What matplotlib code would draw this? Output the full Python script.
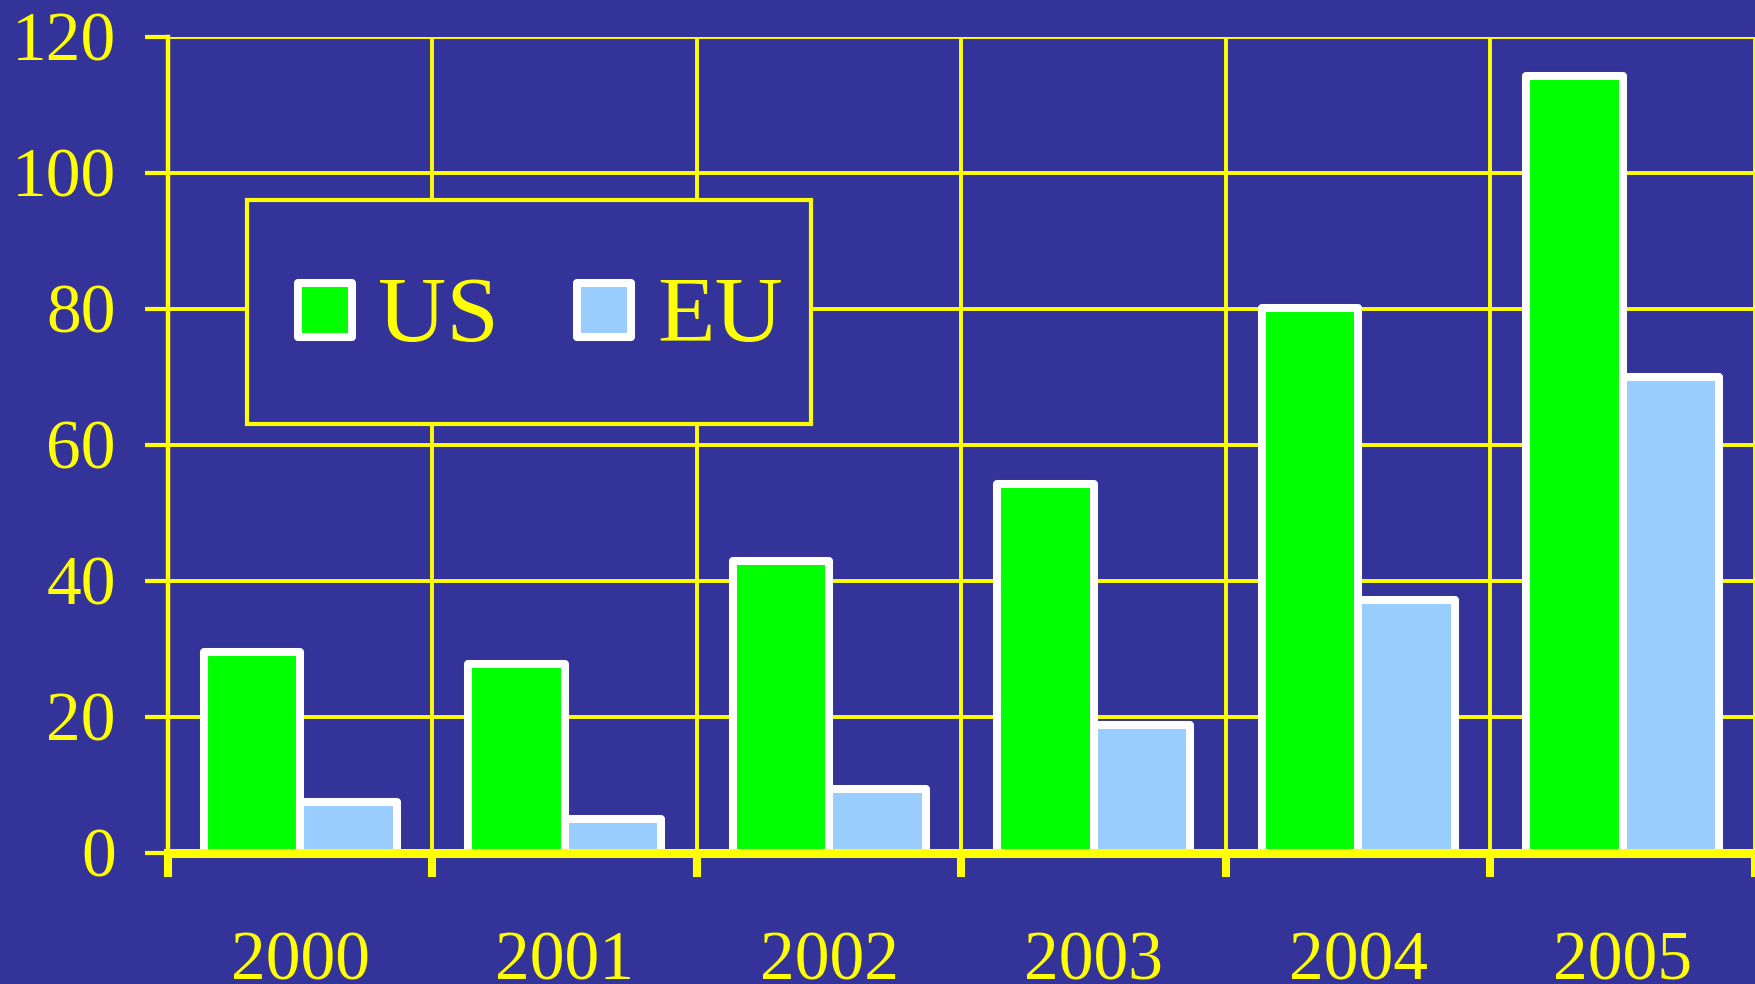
"""Grouped bar chart of yearly US and EU values, 2000-2005."""

import matplotlib

matplotlib.use("Agg")
import matplotlib.pyplot as plt
import numpy as np
from matplotlib.lines import Line2D
from matplotlib.markers import MarkerStyle
from matplotlib.transforms import Affine2D

years = ["2000", "2001", "2002", "2003", "2004", "2005"]
us_values = [29.5, 27.7, 42.9, 54.2, 80.1, 114.2]
eu_values = [7.5, 5.0, 9.4, 18.8, 37.2, 69.9]
y_ticks = [0, 20, 40, 60, 80, 100, 120]

BACKGROUND = "#333399"
YELLOW = "#ffff00"
US_COLOR = "#00ff00"
EU_COLOR = "#99ccff"


def main() -> None:
    """Draw the US / EU bars on the blue background and save out.png."""

    plt.rcParams["font.family"] = ["Liberation Serif", "DejaVu Serif"]
    fig = plt.figure(figsize=(17.55, 9.84), dpi=100, facecolor=BACKGROUND)
    ax = fig.add_axes([0.0957, 0.1334, 0.9043, 0.8293], facecolor=BACKGROUND)

    x = np.arange(len(years))
    width = 0.365
    bar_style = dict(edgecolor="white", linewidth=5.8, joinstyle="round", zorder=2)
    ax.bar(x - width / 2, us_values, width, color=US_COLOR, **bar_style)
    ax.bar(x + width / 2, eu_values, width, color=EU_COLOR, **bar_style)

    ax.set_xlim(-0.5, 5.466)
    ax.set_ylim(0, 120)
    ax.set_yticks(y_ticks)
    ax.set_xticks(x, years)
    ax.set_xticks(np.arange(-0.5, len(years)), minor=True)

    ax.set_axisbelow(True)
    ax.grid(axis="y", which="major", color=YELLOW, lw=2.8)
    ax.grid(axis="x", which="minor", color=YELLOW, lw=2.8)

    ax.tick_params(axis="x", which="major", length=0, pad=56,
                   labelsize=50, labelcolor=YELLOW)
    ax.tick_params(axis="x", which="minor", length=17, width=5.8,
                   color=YELLOW, direction="out")
    ax.tick_params(axis="y", length=16.5, width=3, color=YELLOW, pad=21,
                   labelsize=50, labelcolor=YELLOW)

    for side in ("top", "right"):
        ax.spines[side].set_visible(False)
    ax.spines["left"].set_color(YELLOW)
    ax.spines["left"].set_linewidth(3.2)
    ax.spines["bottom"].set_color(YELLOW)
    ax.spines["bottom"].set_linewidth(6.5)

    # the tall legend row pushes markers up, so nudge them back to text height
    swatch = MarkerStyle("s", joinstyle="round",
                         transform=Affine2D().translate(0, -0.46))
    handles = [
        Line2D([], [], ls="none", marker=swatch, markersize=39,
               markerfacecolor=c, markeredgecolor="white", markeredgewidth=5.8)
        for c in (US_COLOR, EU_COLOR)
    ]
    legend = ax.legend(
        handles, ["US", "EU"], loc="upper left", bbox_to_anchor=(0.0498, 0.7995),
        borderaxespad=0, ncol=2, fontsize=68, labelcolor=YELLOW,
        facecolor=BACKGROUND, edgecolor=YELLOW, framealpha=1, fancybox=False,
        borderpad=0.3, handlelength=1.05, handletextpad=0.04,
        columnspacing=0.58, handleheight=2.34,
    )
    legend.get_frame().set_linewidth(3)

    fig.savefig("out.png", dpi=100, facecolor=BACKGROUND)
    plt.close(fig)


if __name__ == "__main__":
    main()
